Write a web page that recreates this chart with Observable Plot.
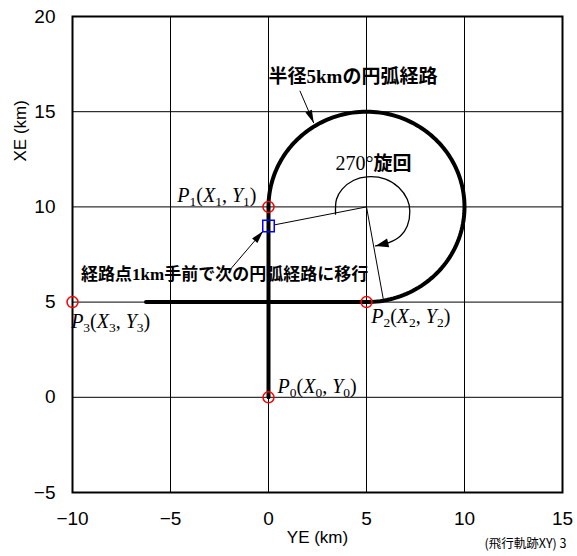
<!DOCTYPE html>
<html>
<head>
<meta charset="utf-8">
<script src="https://cdn.jsdelivr.net/npm/d3@7"></script>
<script src="https://cdn.jsdelivr.net/npm/@observablehq/plot@0.6"></script>
<style>
  html, body { margin: 0; padding: 0; background: #fff; }
  #chart svg { display: block; }
</style>
</head>
<body>
<div id="chart"></div>
<script>
// ---- axes (km) ----
const yeDomain = [-10, 15];
const xeDomain = [-5, 20];
const yeTicks = [-10, -5, 0, 5, 10, 15];
const xeTicks = [-5, 0, 5, 10, 15, 20];
const yeTitle = "YE (km)";
const xeTitle = "XE (km)";
const caption = "(飛行軌跡XY) 3";

// ---- waypoints P0..P3 ----
const wpIndex = ["0", "1", "2", "3"];
const wpYE = [0, 0, 5, -10];
const wpXE = [0, 10, 5, 5];
// label anchor (left end of baseline) for each waypoint
const wpLabelYE = [0.46, -4.65, 5.24, -10.07];
const wpLabelXE = [0.21, 10.28, 3.89, 3.63];

// ---- flight path: inbound leg, 270° turn, outbound leg ----
const inboundYE = [0, 0];
const inboundXE = [0, 10];
const turnCenter = [5, 10];   // [YE, XE]
const turnRadius = 5;         // 半径5km
const turnFromDeg = 180;      // start of the turn (west of centre)
const turnToDeg = -90;        // end of the turn (south of centre), clockwise 270°
const outboundYE = [5, -6.25];
const outboundXE = [5, 5];

// turn start, 1 km before P1
const turnStartYE = [0];
const turnStartXE = [9];

// radius lines drawn from the turn centre
const radiusEndYE = [0.32, 5.87];
const radiusEndXE = [9.06, 5.08];

// "270°旋回" sweep indicator
const sweepYE = [3.42, 3.47, 3.76, 4.35, 5.03, 5.97, 6.65, 7.08, 7.21, 7.08, 6.73, 6.14, 5.46];
const sweepXE = [9.62, 10.4, 10.93, 11.4, 11.58, 11.46, 11.02, 10.4, 9.79, 9.0, 8.47, 8.12, 7.95];

// leader arrows (tail → tip)
const leaderTailYE = [1.6, -2.02];
const leaderTailXE = [16.1, 6.63];
const leaderTipYE = [2.31, -0.27];
const leaderTipXE = [14.4, 8.74];

// annotation texts and their anchors
const noteText = ["半径5kmの円弧経路", "経路点1km手前で次の円弧経路に移行"];
const noteYE = [0.0, -9.56];
const noteXE = [16.84, 6.46];
const sweepLabel = ["270°", "旋回"];
const sweepLabelYE = 3.42;
const sweepLabelXE = 12.26;

// ---- layout ----
const W = 577, H = 556;
const mL = 72, mR = 15, mT = 16, mB = 64;
const pxPerYE = (W - mL - mR) / (yeDomain[1] - yeDomain[0]);
const pxPerXE = (H - mT - mB) / (xeDomain[1] - xeDomain[0]);

// build the flown path as one polyline
const path = [];
inboundYE.forEach((v, i) => path.push({ye: v, xe: inboundXE[i]}));
for (let a = turnFromDeg; a >= turnToDeg; a -= 2) {
  const r = a * Math.PI / 180;
  path.push({ye: turnCenter[0] + turnRadius * Math.cos(r), xe: turnCenter[1] + turnRadius * Math.sin(r)});
}
outboundYE.forEach((v, i) => path.push({ye: v, xe: outboundXE[i]}));

// screen heading (degrees clockwise from up) of a segment given in data units
function heading(x0, y0, x1, y1) {
  const dx = (x1 - x0) * pxPerYE, dy = -(y1 - y0) * pxPerXE;
  return Math.atan2(dx, -dy) * 180 / Math.PI;
}
// filled arrowhead symbol with its tip at the anchor point, pointing up before rotation
function arrowHead(len, half) {
  return {
    draw(ctx) {
      ctx.moveTo(0, 0);
      ctx.lineTo(-half, len);
      ctx.lineTo(half, len);
      ctx.closePath();
    }
  };
}

const leaders = leaderTipYE.map((_, i) => ({
  x1: leaderTailYE[i], y1: leaderTailXE[i], x2: leaderTipYE[i], y2: leaderTipXE[i],
  angle: heading(leaderTailYE[i], leaderTailXE[i], leaderTipYE[i], leaderTipXE[i])
}));
const nS = sweepYE.length;
const sweepHead = [{
  x: sweepYE[nS - 1], y: sweepXE[nS - 1],
  angle: heading(sweepYE[nS - 2], sweepXE[nS - 2], sweepYE[nS - 1], sweepXE[nS - 1])
}];
const radii = radiusEndYE.map((v, i) => ({x1: turnCenter[0], y1: turnCenter[1], x2: v, y2: radiusEndXE[i]}));

const cjk = "'Liberation Serif', 'Noto Sans CJK JP', serif";
const serif = "'Liberation Serif', 'DejaVu Serif', serif";
const gothic = "'Liberation Sans', 'Noto Sans CJK JP', sans-serif";

const fig = Plot.plot({
  width: W, height: H,
  marginLeft: mL, marginRight: mR, marginTop: mT, marginBottom: mB,
  style: {fontFamily: gothic, fontSize: "19px", color: "#000", background: "#fff"},
  x: {domain: yeDomain, ticks: yeTicks, tickSize: 0, tickPadding: 19, label: null},
  y: {domain: xeDomain, ticks: xeTicks, tickSize: 0, tickPadding: 17, label: null},
  marks: [
    Plot.ruleX(yeTicks, {stroke: "#000", strokeWidth: 1}),
    Plot.ruleY(xeTicks, {stroke: "#000", strokeWidth: 1}),
    Plot.frame({stroke: "#000", strokeWidth: 2}),

    // radius lines and sweep indicator
    Plot.link(radii, {x1: "x1", y1: "y1", x2: "x2", y2: "y2", stroke: "#000", strokeWidth: 1}),
    Plot.line(sweepYE.map((v, i) => ({x: v, y: sweepXE[i]})), {x: "x", y: "y", curve: "catmull-rom", stroke: "#000", strokeWidth: 1.3}),
    Plot.dot(sweepHead, {x: "x", y: "y", rotate: "angle", symbol: arrowHead(13, 4.5), fill: "#000", stroke: "none"}),

    // leader arrows
    Plot.link(leaders, {x1: "x1", y1: "y1", x2: "x2", y2: "y2", stroke: "#000", strokeWidth: 1}),
    Plot.dot(leaders, {x: "x2", y: "y2", rotate: "angle", symbol: arrowHead(13, 3.5), fill: "#000", stroke: "none"}),

    // flown path
    Plot.line(path, {x: "ye", y: "xe", stroke: "#000", strokeWidth: 4, strokeLinejoin: "round"}),

    // waypoints and turn start
    Plot.dot(wpIndex, {x: (d, i) => wpYE[i], y: (d, i) => wpXE[i], r: 5.5, stroke: "#f00", strokeWidth: 1.5, fill: "none"}),
    Plot.dot(turnStartYE, {x: d => d, y: (d, i) => turnStartXE[i], symbol: "square", r: 6.5, stroke: "#00f", strokeWidth: 1.5, fill: "none"}),

    // waypoint labels
    Plot.text(wpIndex, {
      x: (d, i) => wpLabelYE[i], y: (d, i) => wpLabelXE[i],
      text: d => `P${d}(X${d}, Y${d})`,
      textAnchor: "start", lineAnchor: "bottom",
      fontFamily: serif, fontSize: 20
    }),

    // annotations
    Plot.text(noteText, {
      x: (d, i) => noteYE[i], y: (d, i) => noteXE[i], text: d => d,
      textAnchor: "start", fontFamily: cjk, fontWeight: "bold", fontSize: (d, i) => i === 0 ? 19 : 17
    }),
    Plot.text([sweepLabel.join("")], {
      x: sweepLabelYE, y: sweepLabelXE, text: d => d,
      textAnchor: "start", fontFamily: cjk, fontSize: 20
    }),

    // axis titles and caption
    Plot.text([yeTitle], {frameAnchor: "bottom", text: d => d, dy: 50, fontSize: 17, fontFamily: gothic}),
    Plot.text([xeTitle], {frameAnchor: "left", text: d => d, dx: -52, dy: -93, rotate: -90, fontSize: 17, fontFamily: gothic}),
    Plot.text([caption], {frameAnchor: "bottom-right", text: d => d, textAnchor: "end", dx: 4, dy: 55, fontSize: 12.5, fontFamily: "'Noto Sans CJK JP', sans-serif"})
  ]
});

// typeset P_k(X_k, Y_k) labels with italic letters and subscripts,
// and set the degree figure of the sweep label in an upright serif
d3.select(fig).selectAll("text").each(function () {
  const t = this.textContent;
  const sel = d3.select(this);
  const m = /^P(\d)\(X\1, Y\1\)$/.exec(t);
  if (m) {
    const k = m[1];
    const pieces = [["P", "it"], [k, "sub"], ["(", "up"], ["X", "it"], [k, "sub"], [", ", "up"], ["Y", "it"], [k, "sub"], [")", "up"]];
    sel.text(null);
    let low = false;
    for (const [s, kind] of pieces) {
      const ts = sel.append("tspan").text(s);
      ts.attr("font-style", kind === "it" ? "italic" : "normal");
      if (kind === "sub") { ts.attr("font-size", "13.5px").attr("dy", 4); low = true; }
      else if (low) { ts.attr("dy", -4); low = false; }
    }
  } else if (t === sweepLabel.join("")) {
    sel.text(null);
    sel.append("tspan").text(sweepLabel[0]).attr("font-family", serif);
    sel.append("tspan").text(sweepLabel[1]).attr("font-family", "'Noto Sans CJK JP', sans-serif").attr("font-weight", "bold").attr("font-size", "19px");
  }
});

document.getElementById("chart").appendChild(fig);
</script>
</body>
</html>
